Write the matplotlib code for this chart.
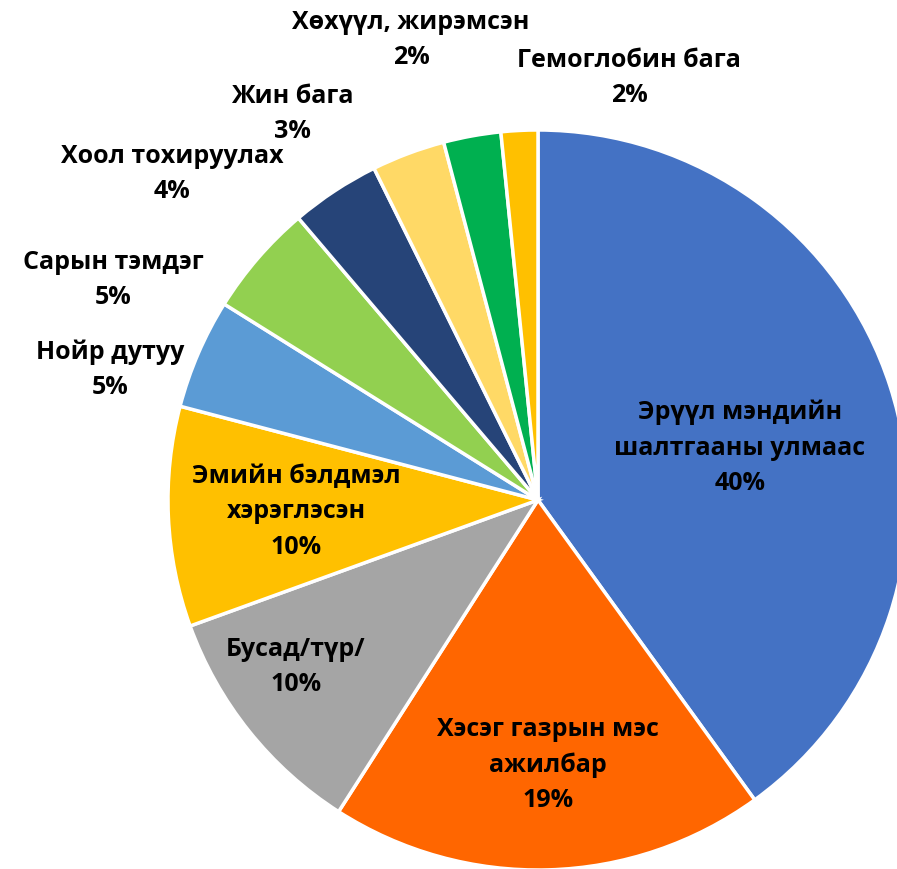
import matplotlib
matplotlib.use("Agg")
import matplotlib.pyplot as plt

categories = ["Эрүүл мэндийн\nшалтгааны улмаас", "Хэсэг газрын мэс\nажилбар", "Бусад/түр/",
              "Эмийн бэлдмэл\nхэрэглэсэн", "Нойр дутуу", "Сарын тэмдэг", "Хоол тохируулах",
              "Жин бага", "Хөхүүл, жирэмсэн", "Гемоглобин бага"]
values = [40.0, 19.0, 10.4, 9.6, 4.8, 4.9, 3.9, 3.2, 2.5, 1.6]
pct_labels = ["40%", "19%", "10%", "10%", "5%", "5%", "4%", "3%", "2%", "2%"]
colors = ["#4472C4", "#FF6600", "#A5A5A5", "#FFC000", "#5B9BD5", "#92D050",
          "#264478", "#FFD966", "#00B050", "#FFC000"]

# label centres in pixel coordinates (x, y from top)
label_pos = [(740, 448), (548, 765), (296, 667), (296, 512), (110, 370), (113, 280),
             (172, 174), (292, 114), (411, 40), (629, 78)]

W, H = 897, 869
fig = plt.figure(figsize=(W / 100, H / 100), dpi=100)
ax = fig.add_axes([0, 0, 1, 1])
ax.pie(values, colors=colors, startangle=90, counterclock=False,
       center=(538, H - 500), radius=370,
       wedgeprops=dict(edgecolor="white", linewidth=2.5))
ax.set_xlim(0, W)
ax.set_ylim(0, H)
ax.set_aspect("equal")
ax.axis("off")

for cat, pct, (x, y) in zip(categories, pct_labels, label_pos):
    ax.text(x, H - y, cat + "\n" + pct, ha="center", va="center",
            fontsize=18, fontweight="bold", family=["Open Sans", "DejaVu Sans"],
            color="black", linespacing=1.55)

fig.savefig("out.png", dpi=100)
